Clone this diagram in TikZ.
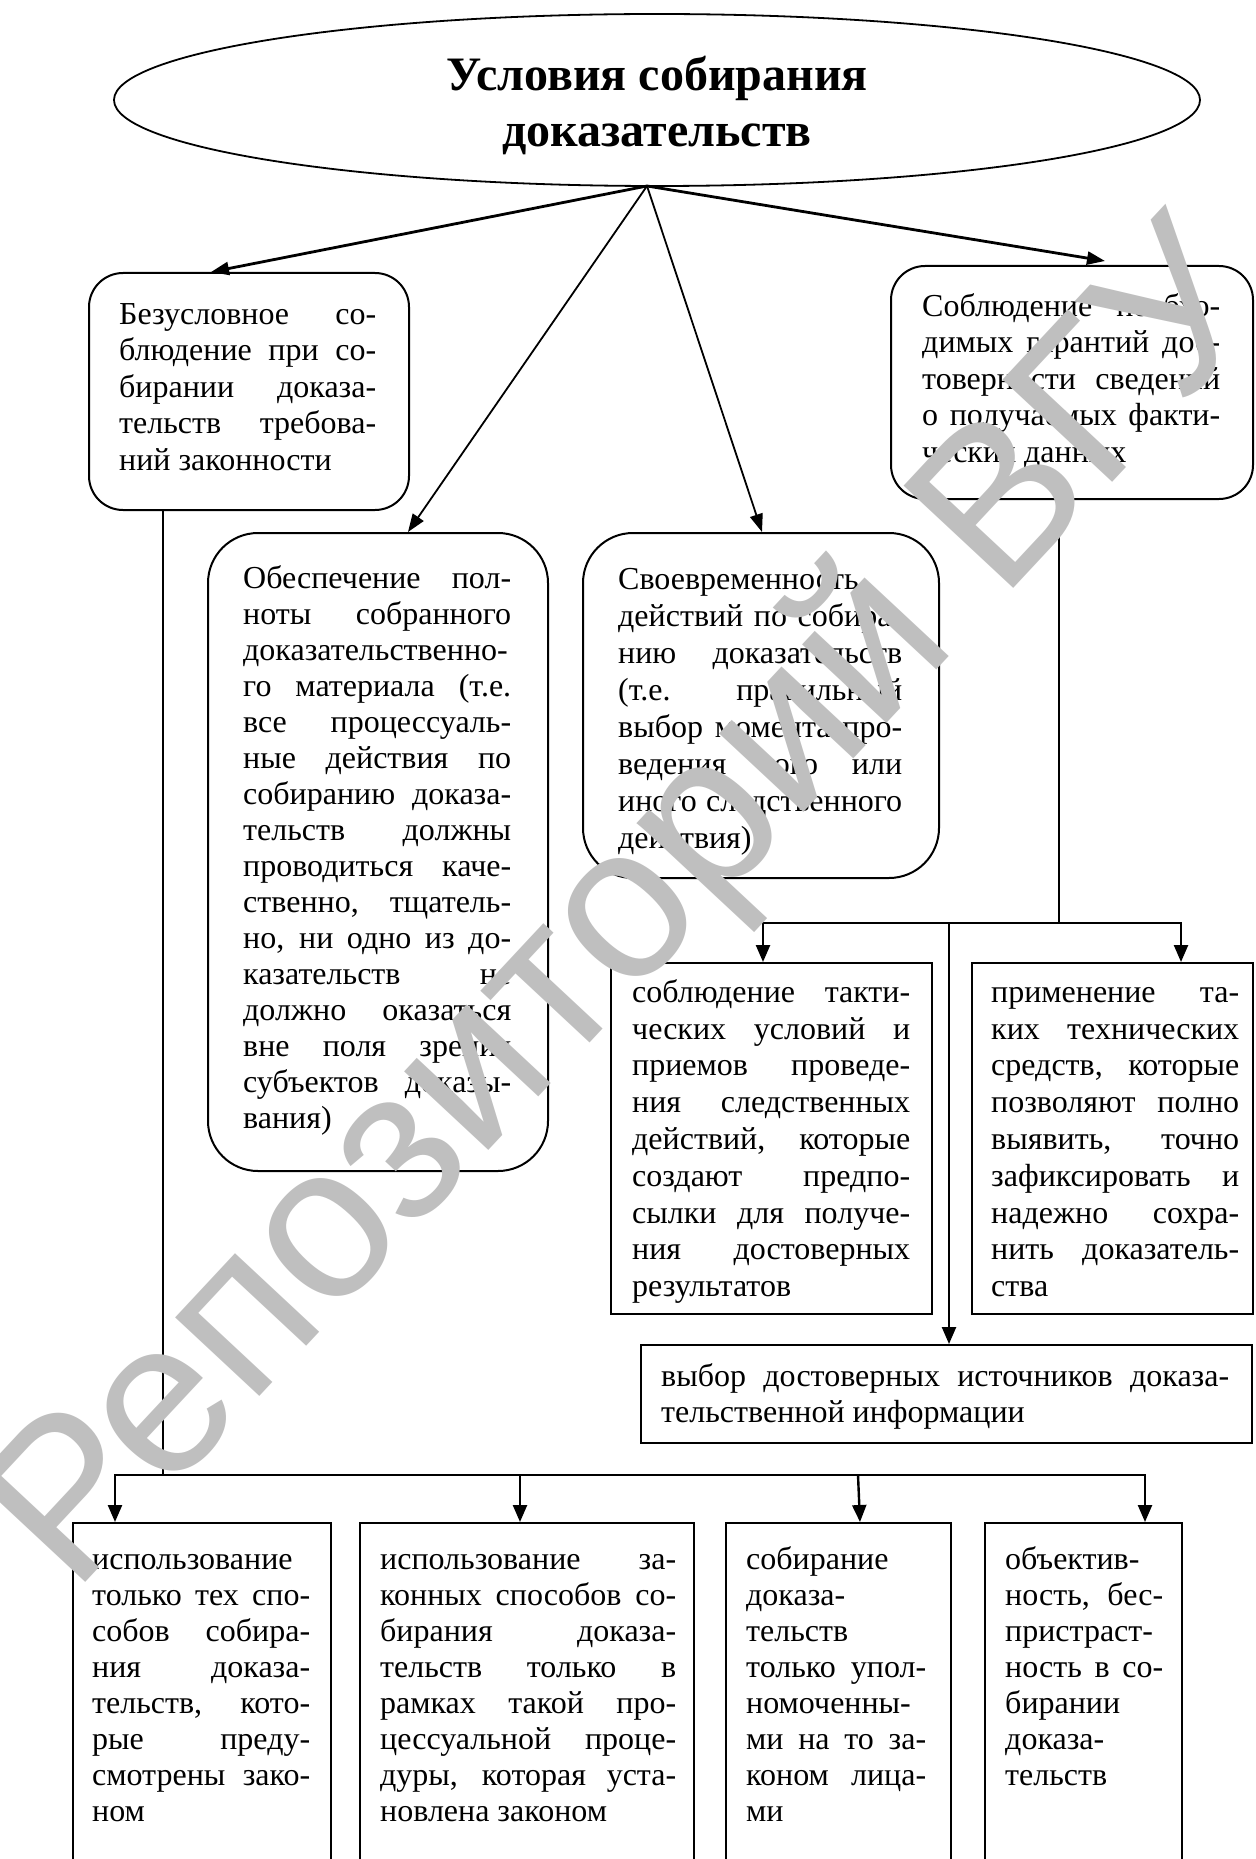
\documentclass[tikz,border=0pt]{standalone}
\usepackage{fontspec}
\setmainfont{Liberation Serif}
\newfontfamily\wmfont{Liberation Sans}
\usetikzlibrary{shapes.geometric,arrows.meta}
\newcommand\JL[1]{\hbox to \hsize{\vrule height 25pt depth 0pt width 0pt #1}}
\newcommand\LL[1]{\hbox to \hsize{\vrule height 25pt depth 0pt width 0pt #1\hfil}}
\newcommand\TB[2]{\vtop{\hsize=#1\relax #2}}
\begin{document}
\begin{tikzpicture}[x=1pt,y=-1pt,
  rbox/.style={draw, line width=2pt, rounded corners=#1, inner sep=0pt, anchor=north west},
  sbox/.style={draw, line width=2pt, inner sep=0pt, anchor=north west},
  txt/.style={inner sep=0pt, anchor=north west, font=\fontsize{32}{36.5}\selectfont},
  ttl/.style={inner sep=0pt, anchor=base, font=\fontsize{48}{56}\selectfont\bfseries},
  arrthick/.style={-{Triangle[length=18pt,width=13pt]}, line width=2.8pt},
  arrthin/.style={-{Triangle[length=18pt,width=13pt]}, line width=1.8pt},
  arr/.style={-{Triangle[length=17pt,width=14pt]}, line width=2.4pt},
  thinline/.style={line width=1.5pt},
  wm/.style={text=black!25, font=\fontsize{218}{218}\selectfont\wmfont, inner sep=0pt}
]
\useasboundingbox (0,0) rectangle (1255,1859);
\clip (0,0) rectangle (1255,1859);

% title ellipse
\node[draw, ellipse, line width=1.8pt, minimum width=1086pt, minimum height=172pt, inner sep=0pt] (ell) at (657,100) {};
\node[ttl] (t1) at (657,91) {Условия собирания};
\node[ttl] (t2) at (657,147) {доказательств};
\coordinate (o) at (647,186);

% second level
\node[rbox=34pt, minimum width=320pt, minimum height=237pt] (b1) at (88,272) {};
\node[txt] (b1t) at (119,299) {\TB{257pt}{\JL{Безусловное со-}\JL{блюдение при со-}\JL{бирании доказа-}\JL{тельств требова-}\LL{ний законности}}};

\node[rbox=34pt, minimum width=362pt, minimum height=233pt] (b4) at (890,265) {};
\node[txt] (b4t) at (922,291) {\TB{298pt}{\JL{Соблюдение необхо-}\JL{димых гарантий дос-}\JL{товерности сведений}\JL{о получаемых факти-}\LL{ческих данных}}};

\node[rbox=50pt, minimum width=340pt, minimum height=638pt] (b2) at (207,532) {};
\node[txt, font=\fontsize{32}{36}\selectfont] (b2t) at (243,563) {\TB{268pt}{\JL{Обеспечение пол-}\JL{ноты собранного}\JL{доказательственно-}\JL{го материала (т.е.}\JL{все процессуаль-}\JL{ные действия по}\JL{собиранию доказа-}\JL{тельств должны}\JL{проводиться каче-}\JL{ственно, тщатель-}\JL{но, ни одно из до-}\JL{казательств не}\JL{должно оказаться}\JL{вне поля зрения}\JL{субъектов доказы-}\LL{вания)}}};

\node[rbox=50pt, minimum width=356pt, minimum height=345pt] (b3) at (582,532) {};
\node[txt, font=\fontsize{32}{37}\selectfont] (b3t) at (618,564) {\TB{284pt}{\JL{Своевременность}\JL{действий по собира-}\JL{нию доказательств}\JL{(т.е. правильный}\JL{выбор момента про-}\JL{ведения того или}\JL{иного следственного}\LL{действия)}}};

% right branch
\node[sbox, minimum width=321pt, minimum height=351pt] (b5) at (610,962) {};
\node[txt, font=\fontsize{32}{36.8}\selectfont] (b5t) at (632,977) {\TB{278pt}{\JL{соблюдение такти-}\JL{ческих условий и}\JL{приемов проведе-}\JL{ния следственных}\JL{действий, которые}\JL{создают предпо-}\JL{сылки для получе-}\JL{ния достоверных}\LL{результатов}}};

\node[sbox, minimum width=281pt, minimum height=351pt] (b6) at (971,962) {};
\node[txt, font=\fontsize{32}{36.8}\selectfont] (b6t) at (991,977) {\TB{248pt}{\JL{применение та-}\JL{ких технических}\JL{средств, которые}\JL{позволяют полно}\JL{выявить, точно}\JL{зафиксировать и}\JL{надежно сохра-}\JL{нить доказатель-}\LL{ства}}};

\node[sbox, minimum width=611pt, minimum height=98pt] (v) at (640,1344) {};
\node[txt] (vt) at (661,1361) {\TB{568pt}{\JL{выбор достоверных источников доказа-}\LL{тельственной информации}}};

% bottom row
\node[sbox, minimum width=258pt, minimum height=360pt] (bA) at (72,1522) {};
\node[txt, font=\fontsize{32}{36}\selectfont] (bAt) at (92,1544) {\TB{218pt}{\JL{использование}\JL{только тех спо-}\JL{собов собира-}\JL{ния доказа-}\JL{тельств, кото-}\JL{рые преду-}\JL{смотрены зако-}\LL{ном}}};

\node[sbox, minimum width=334pt, minimum height=360pt] (bB) at (359,1522) {};
\node[txt, font=\fontsize{32}{36}\selectfont] (bBt) at (380,1544) {\TB{296pt}{\JL{использование за-}\JL{конных способов со-}\JL{бирания доказа-}\JL{тельств только в}\JL{рамках такой про-}\JL{цессуальной проце-}\JL{дуры, которая уста-}\LL{новлена законом}}};

\node[sbox, minimum width=225pt, minimum height=360pt] (bC) at (725,1522) {};
\node[txt, font=\fontsize{32}{36}\selectfont] (bCt) at (746,1544) {\TB{180pt}{\JL{собирание}\JL{доказа-}\JL{тельств}\JL{только упол-}\JL{номоченны-}\JL{ми на то за-}\JL{коном лица-}\LL{ми}}};

\node[sbox, minimum width=197pt, minimum height=360pt] (bD) at (984,1522) {};
\node[txt, font=\fontsize{32}{36}\selectfont] (bDt) at (1005,1544) {\TB{158pt}{\JL{объектив-}\JL{ность, бес-}\JL{пристраст-}\JL{ность в со-}\JL{бирании}\JL{доказа-}\LL{тельств}}};

% arrows from the ellipse
\draw[arrthick] (o) -- ([xshift=123pt]b1.north west);
\draw[arrthin] (o) -- ([xshift=201pt]b2.north west);
\draw[arrthin] (o) -- ([xshift=180pt]b3.north west);
\draw[arrthick] (o) -- ([xshift=215pt,yshift=4pt]b4.north west);

% right tree
\coordinate (j1) at (1059,923);
\coordinate (j2) at (949,923);
\draw[thinline] ([xshift=169pt]b4.south west) -- (j1);
\draw[arr] (j1) -| ([xshift=153pt]b5.north west);
\draw[arr] (j1) -| ([xshift=210pt]b6.north west);
\draw[arr] (j2) -- (j2 |- v.north);

% left tree
\coordinate (j3) at (163,1475);
\coordinate (jB) at (520,1475);
\coordinate (jC) at (858,1475);
\draw[thinline] ([xshift=75pt]b1.south west) -- (j3);
\draw[arr] (j3) -| ([xshift=43pt]bA.north west);
\draw[arr] (j3) -| ([xshift=161pt]bD.north west);
\draw[arr] (jB) -- (jB |- bB.north);
\draw[arr] (jC) -- ([xshift=135pt]bC.north west);

% watermark
\node[wm, rotate=47] (wmk) at (632,912) {Репозиторий ВГУ};
\end{tikzpicture}
\end{document}
